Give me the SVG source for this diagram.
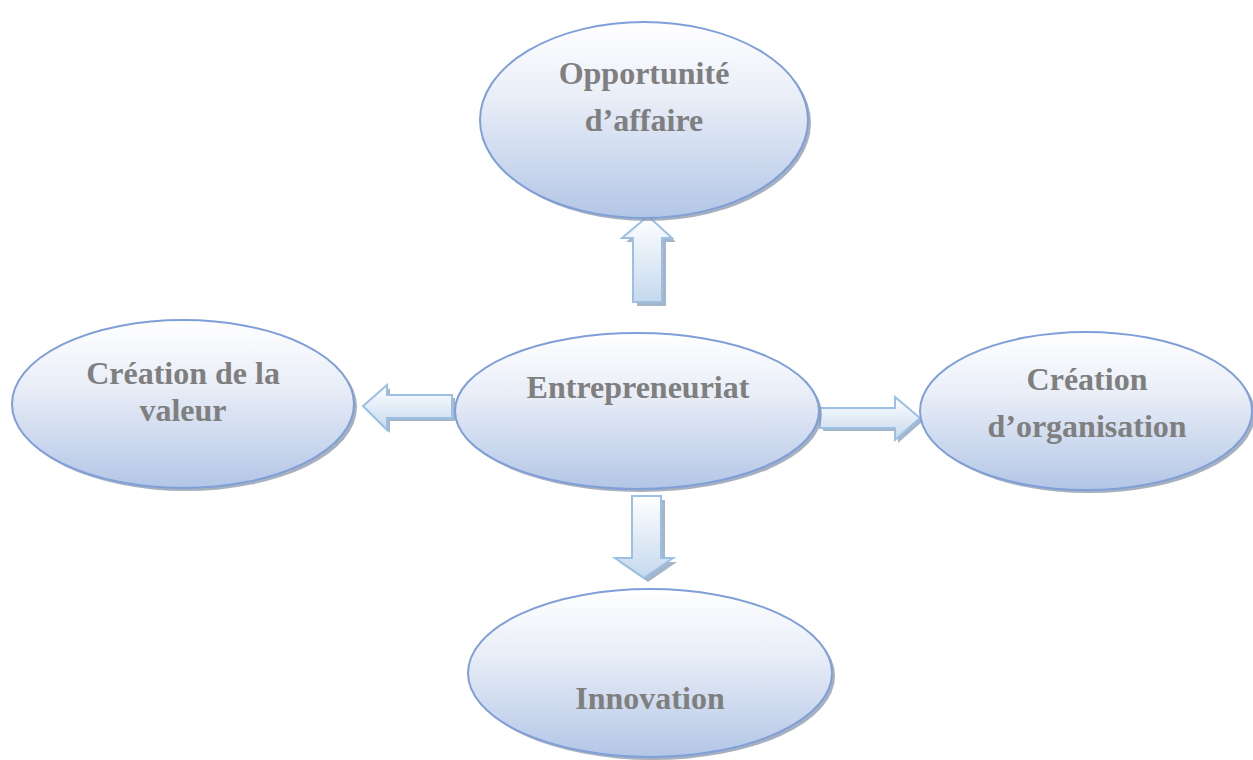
<svg xmlns="http://www.w3.org/2000/svg" width="1253" height="760" viewBox="0 0 1253 760">
<defs>
<linearGradient id="eg" x1="0" y1="0" x2="0" y2="1">
<stop offset="0" stop-color="#ffffff"/>
<stop offset="0.4" stop-color="#e8edf7"/>
<stop offset="1" stop-color="#b3c6e6"/>
</linearGradient>
<linearGradient id="agv" x1="0" y1="0" x2="0" y2="1">
<stop offset="0" stop-color="#ffffff"/>
<stop offset="1" stop-color="#c5d8ee"/>
</linearGradient>
<linearGradient id="agh" x1="0" y1="0" x2="0" y2="1">
<stop offset="0" stop-color="#ffffff"/>
<stop offset="1" stop-color="#c5d8ee"/>
</linearGradient>
</defs>
<style>
.sh{fill:#8a96aa;opacity:0.75}
.el{fill:url(#eg);stroke:#7f9fd8;stroke-width:2}
.ash{fill:#8fa3bd;opacity:0.8}
.ar{stroke:#9cc0e4;stroke-width:2;stroke-linejoin:miter}
.t{font-family:"Liberation Serif",serif;font-weight:bold;font-size:32px;fill:#7f7f7f;text-anchor:middle}
</style>
<rect width="1253" height="760" fill="#ffffff"/>
<g id="connectors">
<polygon class="ash" points="652,220 676,242 666,242 666,306 637,306 637,242 626,242"/>
<polygon class="ar" fill="url(#agv)" points="648,216 672,238 662,238 662,302 633,302 633,238 622,238"/>
<polygon class="ash" points="366,409 390,388 390,398 455,398 455,421 390,421 390,433"/>
<polygon class="ar" fill="url(#agh)" points="363,406 387,385 387,395 452,395 452,418 387,418 387,430"/>
<polygon class="ash" points="823,411 898,411 898,400 923,421 898,443 898,431 823,431"/>
<polygon class="ar" fill="url(#agh)" points="820,408 895,408 895,397 920,418 895,440 895,428 820,428"/>
<polygon class="ash" points="636,500 665,500 665,562 677,562 648,582 619,562 636,562"/>
<polygon class="ar" fill="url(#agv)" points="632,496 661,496 661,558 673,558 644,578 615,558 632,558"/>
</g>
<g id="opportunite">
<ellipse class="sh" cx="647" cy="123" rx="164" ry="98"/>
<ellipse class="el" cx="644" cy="120" rx="164" ry="98"/>
<text class="t" x="644" y="84">Opportunité</text>
<text class="t" x="644" y="131">d’affaire</text>
</g>
<g id="creation-valeur">
<ellipse class="sh" cx="186" cy="407" rx="171" ry="84"/>
<ellipse class="el" cx="183" cy="404" rx="171" ry="84"/>
<text class="t" x="183" y="384">Création de la</text>
<text class="t" x="183" y="421">valeur</text>
</g>
<g id="entrepreneuriat">
<ellipse class="sh" cx="640" cy="414" rx="182" ry="78"/>
<ellipse class="el" cx="637" cy="411" rx="182" ry="78"/>
<text class="t" x="638" y="398">Entrepreneuriat</text>
</g>
<g id="creation-organisation">
<ellipse class="sh" cx="1089" cy="414" rx="166" ry="79"/>
<ellipse class="el" cx="1086" cy="411" rx="166" ry="79"/>
<text class="t" x="1087" y="390">Création</text>
<text class="t" x="1087" y="437">d’organisation</text>
</g>
<g id="innovation">
<ellipse class="sh" cx="653" cy="676" rx="182" ry="84"/>
<ellipse class="el" cx="650" cy="673" rx="182" ry="84"/>
<text class="t" x="650" y="709">Innovation</text>
</g>
</svg>
